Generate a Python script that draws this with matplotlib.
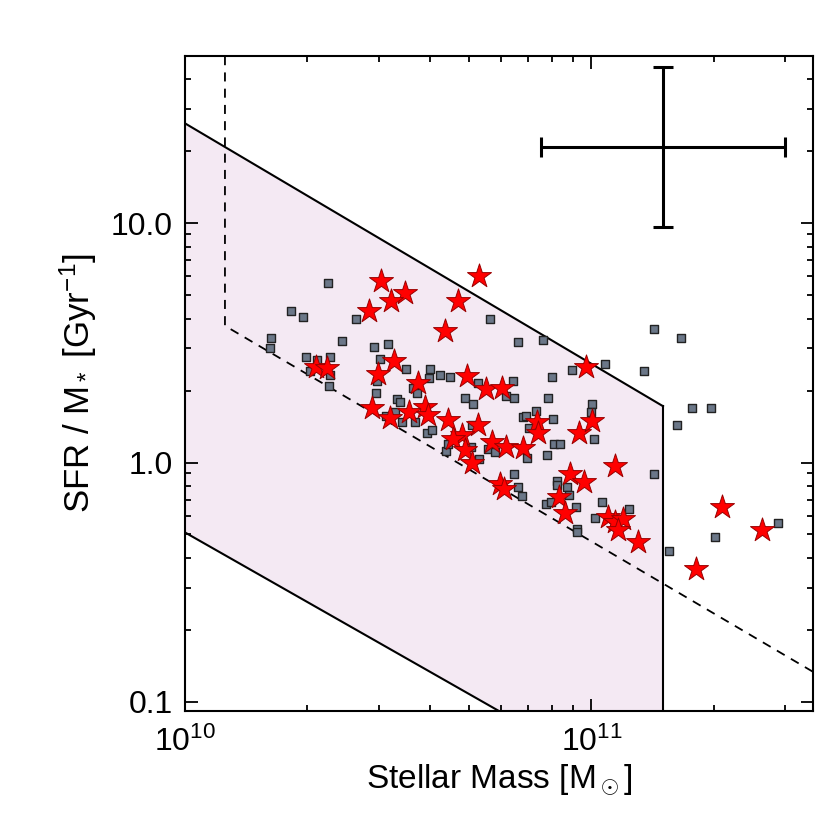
import numpy as np
import matplotlib.pyplot as plt
from matplotlib.ticker import FixedLocator, FixedFormatter, LogLocator, NullFormatter

plt.rcParams['font.family'] = ['Liberation Sans', 'DejaVu Sans']
plt.rcParams['mathtext.fontset'] = 'custom'
plt.rcParams['mathtext.rm'] = 'Liberation Sans'
plt.rcParams['mathtext.it'] = 'Liberation Sans:italic'
plt.rcParams['mathtext.bf'] = 'Liberation Sans:bold'

# stellar mass in units of 1e10 Msun, specific SFR in Gyr^-1
star_mass = [3.04, 3.48, 3.21, 2.84, 5.28, 4.70, 4.36, 9.68, 2.10, 2.24,
             3.26, 2.98, 3.74, 4.93, 5.51, 6.01, 2.89, 3.19, 3.56, 3.89,
             3.96, 4.44, 5.26, 4.79, 4.57, 4.88, 5.07, 5.69, 6.17, 6.79,
             7.35, 7.38, 9.31, 10.06, 11.42, 8.86, 9.57, 5.95, 6.09, 8.32,
             8.60, 10.99, 11.41, 11.94, 11.63, 13.02, 20.95, 26.28, 18.12]
star_ssfr = [5.74, 5.10, 4.73, 4.32, 6.03, 4.75, 3.55, 2.52, 2.51, 2.48,
             2.67, 2.35, 2.14, 2.30, 2.02, 2.04, 1.69, 1.54, 1.63, 1.71,
             1.58, 1.50, 1.435, 1.30, 1.256, 1.13, 0.995, 1.22, 1.164, 1.155,
             1.474, 1.33, 1.33, 1.49, 0.967, 0.895, 0.829, 0.811, 0.776, 0.719,
             0.613, 0.593, 0.564, 0.583, 0.524, 0.467, 0.653, 0.522, 0.358]

sq_mass = [2.25, 1.82, 1.95, 2.63, 1.63, 1.62, 2.44, 2.91, 3.15, 1.99,
           2.28, 2.11, 3.01, 2.03, 2.27, 2.26, 3.50, 4.01, 3.98, 2.96,
           3.64, 3.73, 2.95, 3.32, 3.38, 3.41, 3.67, 3.28, 3.12, 3.93,
           4.05, 4.23, 4.48, 5.26, 6.41, 8.00, 5.64, 6.60, 7.58, 8.98,
           10.81, 4.88, 5.12, 6.18, 6.44, 7.82, 10.06, 10.00, 6.80, 6.91,
           7.31, 8.05, 5.07, 7.03, 10.15, 8.08, 8.36, 6.93, 7.77, 6.45,
           6.61, 6.76, 8.22, 8.25, 8.71, 8.80, 7.75, 7.97, 9.15, 10.61,
           12.39, 10.19, 9.23, 9.24, 14.23, 16.27, 15.52, 14.23, 16.65, 13.50,
           17.72, 19.73, 20.10, 28.76, 4.38, 4.44, 5.05, 5.57, 5.78, 5.29]
sq_ssfr = [5.61, 4.31, 4.07, 3.97, 3.33, 3.00, 3.21, 3.05, 3.12, 2.77,
           2.75, 2.68, 2.70, 2.42, 2.33, 2.09, 2.45, 2.45, 2.26, 2.19,
           2.04, 1.95, 1.95, 1.84, 1.79, 1.47, 1.48, 1.62, 1.57, 1.33,
           1.37, 2.32, 2.27, 2.15, 2.19, 2.28, 3.98, 3.18, 3.25, 2.44,
           2.58, 1.87, 1.75, 1.90, 1.86, 1.87, 1.76, 1.63, 1.55, 1.57,
           1.64, 1.52, 1.435, 1.39, 1.25, 1.195, 1.20, 1.04, 1.07, 0.893,
           0.792, 0.724, 0.834, 0.805, 0.788, 0.731, 0.669, 0.682, 0.650, 0.686,
           0.637, 0.584, 0.526, 0.514, 0.895, 1.43, 0.427, 3.61, 3.31, 2.42,
           1.69, 1.69, 0.487, 0.557, 1.117, 1.20, 1.164, 1.136, 1.11, 1.03]

# selection region boundaries (mass in Msun, sSFR in Gyr^-1)
upper_m = [1e10, 1.5e11]
upper_s = [26.2, 1.72]
lower_m = [1e10, 1.5e11]
lower_s = [0.51, 0.0372]
mass_cut = 1.5e11
dash_m = [1.254e10, 1.254e10, 3.5e11]
dash_s = [80.0, 3.73, 0.1336]

# typical uncertainty
err_m, err_s = 1.5e11, 20.8
err_m_lo, err_m_hi = 7.5e10, 3.0e11
err_s_lo, err_s_hi = 9.68, 45.2

fig = plt.figure(figsize=(8.3, 8.3), dpi=100)
ax = fig.add_axes([0.2229, 0.1434, 0.7561, 0.7891])
ax.set_xscale('log')
ax.set_yscale('log')

# shaded selection box
lx = np.logspace(10, np.log10(mass_cut), 200)
up = 10 ** np.interp(np.log10(lx), np.log10(upper_m), np.log10(upper_s))
lo = 10 ** np.interp(np.log10(lx), np.log10(lower_m), np.log10(lower_s))
ax.fill_between(lx, lo, up, color='#F4E9F3', lw=0, zorder=1)
ax.plot(upper_m, upper_s, color='k', lw=1.5, zorder=2)
ax.plot(lower_m, lower_s, color='k', lw=1.5, zorder=2)
ax.plot([mass_cut, mass_cut], [upper_s[-1], 0.01], color='k', lw=1.5, zorder=2)
ax.plot(dash_m, dash_s, color='k', lw=1.3, ls=(0, (5, 4)), zorder=2)

ax.scatter(np.array(sq_mass) * 1e10, sq_ssfr, marker='s', s=40, c='#6B7788',
           edgecolors='#222222', linewidths=1.0, zorder=3)
ax.scatter(np.array(star_mass) * 1e10, star_ssfr, marker='*', s=330, c='#FF0000',
           edgecolors='#990000', linewidths=0.7, zorder=4)

ax.errorbar(err_m, err_s, xerr=[[err_m - err_m_lo], [err_m_hi - err_m]],
            yerr=[[err_s - err_s_lo], [err_s_hi - err_s]], fmt='none',
            ecolor='k', elinewidth=2.2, capsize=7.2, capthick=2.2, zorder=5)

ax.set_xlim(1e10, 3.5e11)
ax.set_ylim(0.0914, 50.1)

ax.yaxis.set_major_locator(FixedLocator([0.1, 1.0, 10.0]))
ax.yaxis.set_major_formatter(FixedFormatter(['0.1', '1.0', '10.0']))
ax.yaxis.set_minor_locator(LogLocator(base=10, subs=np.arange(2, 10)))
ax.yaxis.set_minor_formatter(NullFormatter())
ax.xaxis.set_minor_locator(LogLocator(base=10, subs=np.arange(2, 10)))
ax.xaxis.set_minor_formatter(NullFormatter())

ax.tick_params(which='both', direction='in', top=True, right=True, width=1.3,
               labelsize=23, colors='k')
ax.tick_params(axis='x', which='major', length=9, pad=11)
ax.tick_params(axis='y', which='major', length=9, pad=9)
ax.tick_params(which='minor', length=4.5)
for sp in ax.spines.values():
    sp.set_linewidth(1.5)

ax.set_xlabel(r'Stellar Mass [M$_\odot$]', fontsize=24, labelpad=4)
ax.set_ylabel(r'SFR / M$_*$ [Gyr$^{-1}$]', fontsize=25, labelpad=8)

fig.savefig('out.png', dpi=100)
